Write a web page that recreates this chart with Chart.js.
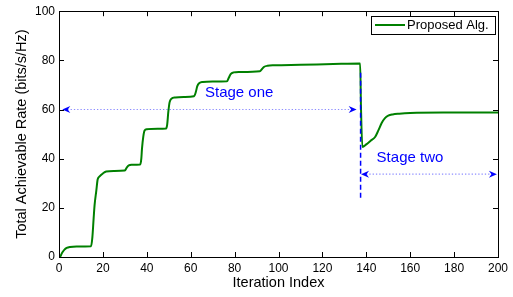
<!DOCTYPE html>
<html><head><meta charset="utf-8">
<script src="https://cdn.jsdelivr.net/npm/chart.js@4.4.1/dist/chart.umd.min.js"></script>
<style>html,body{margin:0;padding:0;background:#fff}</style>
</head><body>
<canvas id="c" width="513" height="297"></canvas>
<script>
// ---- data ----
const iterations = [0.5,1.5,2.5,3.5,5,8,14.6,15.2,15.8,16.2,17,17.6,18.5,20,21.5,25,30,30.8,31.8,33,37,37.5,37.8,38.4,39,40,45,48.8,49.3,49.8,50.4,51.2,53,57,61.5,62.3,63,64,65.5,70,76.5,77.3,78.2,79.5,82,91.5,92.5,93.5,95,98,110,125,137.2,137.6,138.2,140,142,144,145.5,147,148.5,150,152,155,160,175,200];
const rates      = [0,1.8,3.0,3.7,4.1,4.3,4.4,8,16,21,27,31.5,32.8,34,34.8,35,35.2,36.3,37.3,37.5,37.6,40,44,49,51.5,52,52.2,52.3,54,59,63,64.4,64.9,65.1,65.4,67,69.5,70.8,71.2,71.4,71.5,72.8,74.4,75.1,75.3,75.6,76.5,77.4,77.8,78,78.2,78.5,78.7,60,44.8,45.8,47.3,48.8,51.5,54.5,56.5,57.5,58,58.3,58.6,58.8,58.8];
const xTicks = [0,20,40,60,80,100,120,140,160,180,200];
const yTicks = [0,20,40,60,80,100];
const seriesName = "Proposed Alg.";
const xTitle = "Iteration Index";
const yTitle = "Total Achievable Rate (bits/s/Hz)";
const stageNames = ["Stage one","Stage two"];
const stageTextX = [66.5,144.7];
const stageTextY = [66.8,40.4];
const stageArrowFrom = [1.5,137.6];
const stageArrowTo = [135.6,199.5];
const stageArrowY = [60,33.7];
const dividerX = 137.4;
const dividerYRange = [24,75];

const FONT = "'Liberation Sans', Arial, Helvetica, sans-serif";
const GREEN = 'rgb(0,128,0)';
const BLUE = 'rgb(0,0,255)';

function arrowHead(ctx, tx, ty, dir) {
  const L = 8, W = 3.5, N = 5.5;
  ctx.beginPath();
  ctx.moveTo(tx, ty);
  ctx.lineTo(tx - dir * L, ty - W);
  ctx.lineTo(tx - dir * N, ty);
  ctx.lineTo(tx - dir * L, ty + W);
  ctx.closePath();
  ctx.fill();
}

const decor = {
  id: 'decor',
  afterDatasetsDraw(chart) {
    const ctx = chart.ctx, a = chart.chartArea;
    const xs = chart.scales.x, ys = chart.scales.y;
    ctx.save();
    // frame
    ctx.strokeStyle = '#000'; ctx.lineWidth = 1; ctx.setLineDash([]);
    ctx.strokeRect(Math.round(a.left) + 0.5, Math.round(a.top) + 0.5, Math.round(a.right - a.left), Math.round(a.bottom - a.top));
    // inward ticks
    const TL = 5;
    ctx.beginPath();
    xTicks.forEach(v => {
      const px = Math.round(xs.getPixelForValue(v)) + 0.5;
      ctx.moveTo(px, a.bottom); ctx.lineTo(px, a.bottom - TL);
      ctx.moveTo(px, a.top); ctx.lineTo(px, a.top + TL);
    });
    yTicks.forEach(v => {
      const py = Math.round(ys.getPixelForValue(v)) + 0.5;
      ctx.moveTo(a.left, py); ctx.lineTo(a.left + TL, py);
      ctx.moveTo(a.right, py); ctx.lineTo(a.right - TL, py);
    });
    ctx.stroke();

    // stage arrows (dotted)
    ctx.fillStyle = BLUE;
    for (let i = 0; i < stageArrowY.length; i++) {
      const y = ys.getPixelForValue(stageArrowY[i]);
      const x1 = xs.getPixelForValue(stageArrowFrom[i]);
      const x2 = xs.getPixelForValue(stageArrowTo[i]);
      ctx.strokeStyle = 'rgba(0,0,255,0.45)';
      ctx.lineWidth = 1.2;
      ctx.setLineDash([1.3, 2]);
      ctx.beginPath(); ctx.moveTo(x1 + 5, y); ctx.lineTo(x2 - 5, y); ctx.stroke();
      ctx.setLineDash([]);
      arrowHead(ctx, x1, y, -1);
      arrowHead(ctx, x2, y, 1);
    }
    // divider dashed line
    const dx = xs.getPixelForValue(dividerX);
    ctx.strokeStyle = BLUE; ctx.lineWidth = 1.5; ctx.setLineDash([5, 3]);
    ctx.beginPath();
    ctx.moveTo(dx, ys.getPixelForValue(dividerYRange[1]));
    ctx.lineTo(dx, ys.getPixelForValue(dividerYRange[0]));
    ctx.stroke();
    ctx.setLineDash([]);
    // stage texts
    ctx.font = '15px ' + FONT;
    ctx.textAlign = 'left'; ctx.textBaseline = 'middle';
    ctx.fillStyle = BLUE;
    for (let i = 0; i < stageNames.length; i++) {
      ctx.fillText(stageNames[i], xs.getPixelForValue(stageTextX[i]), ys.getPixelForValue(stageTextY[i]));
    }
    // legend
    ctx.font = '13px ' + FONT;
    const label = chart.data.datasets[0].label;
    const tw = ctx.measureText(label).width;
    const bw = 4 + 30 + 2 + tw + 6, bh = 18;
    const bx = Math.round(a.right - 3 - bw), by = Math.round(a.top + 5);
    ctx.fillStyle = '#fff';
    ctx.fillRect(bx, by, bw, bh);
    ctx.strokeStyle = '#000'; ctx.lineWidth = 1;
    ctx.strokeRect(bx + 0.5, by + 0.5, Math.round(bw), bh);
    ctx.strokeStyle = GREEN; ctx.lineWidth = 2;
    ctx.beginPath(); ctx.moveTo(bx + 4, by + 9); ctx.lineTo(bx + 34, by + 9); ctx.stroke();
    ctx.fillStyle = '#000'; ctx.textBaseline = 'middle';
    ctx.fillText(label, bx + 36, by + 9.5);
    ctx.restore();
  }
};

new Chart(document.getElementById('c'), {
  type: 'line',
  data: {
    datasets: [{
      label: seriesName,
      data: iterations.map((x, i) => ({x, y: rates[i]})),
      borderColor: GREEN,
      borderWidth: 2,
      pointRadius: 0,
      fill: false,
      cubicInterpolationMode: 'monotone'
    }]
  },
  options: {
    responsive: false,
    animation: false,
    layout: { padding: { top: 7, right: 15, left: 0, bottom: 0 } },
    plugins: { legend: { display: false }, tooltip: { enabled: false } },
    scales: {
      x: {
        type: 'linear', min: 0, max: 200,
        afterBuildTicks: s => { s.ticks = xTicks.map(v => ({value: v})); },
        afterFit: s => { s.height = 40; },
        grid: { display: false, drawTicks: false, tickLength: 0 }, border: { display: false },
        ticks: { font: { family: FONT, size: 12 }, color: '#000', padding: 4, maxRotation: 0, autoSkip: false },
        title: { display: true, text: xTitle, color: '#000', font: { family: FONT, size: 14.5 }, padding: { top: 0, bottom: 5.5 } }
      },
      y: {
        type: 'linear', min: 0, max: 100,
        afterBuildTicks: s => { s.ticks = yTicks.map(v => ({value: v})); },
        afterFit: s => { s.width = 59; },
        grid: { display: false, drawTicks: false, tickLength: 0 }, border: { display: false },
        ticks: { font: { family: FONT, size: 12 }, color: '#000', padding: 4, autoSkip: false },
        title: { display: true, text: yTitle, color: '#000', font: { family: FONT, size: 14.5 }, padding: { top: 13, bottom: 0 } }
      }
    }
  },
  plugins: [decor]
});
</script>
</body></html>
